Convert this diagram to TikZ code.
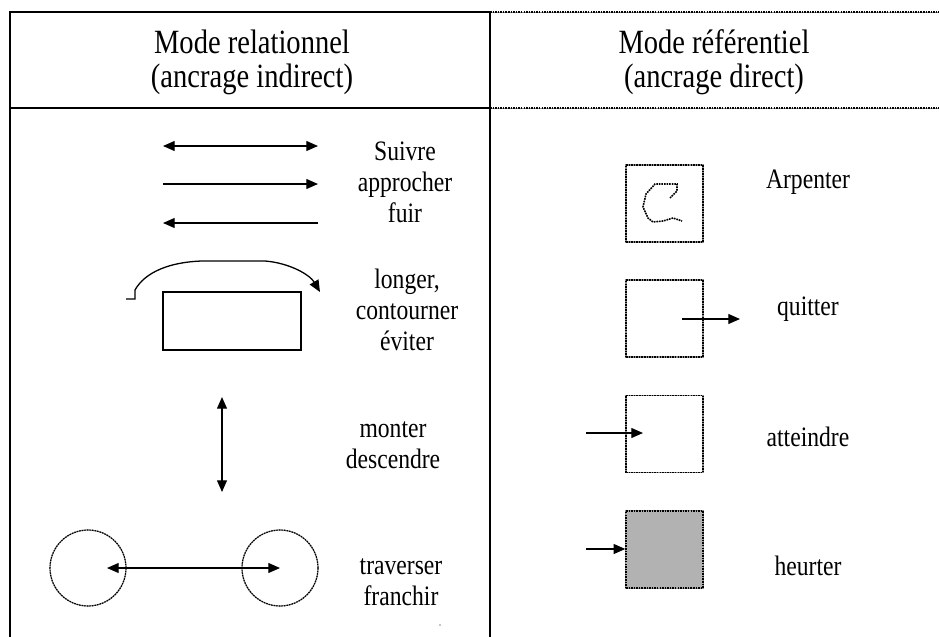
\documentclass[tikz,border=0pt]{standalone}
\usepackage{fontspec}
\setmainfont[FakeStretch=0.84]{Liberation Serif}
\usetikzlibrary{arrows.meta}

\begin{document}
\begin{tikzpicture}[x=0.03cm, y=-0.03cm,
    >={Triangle[length=10pt,width=8.5pt]},
    fleche/.style={line width=1.1pt},
    pointille/.style={line width=1.2pt, dash pattern=on 1.3pt off 0.9pt,
        preaction={draw, solid, black!45}},
    zone/.style={draw, pointille, rectangle, minimum size=2.31cm, inner sep=0pt},
    rond/.style={draw, pointille, line width=1pt, circle, minimum size=2.28cm, inner sep=0pt},
    tete/.style={align=center, font=\fontsize{29}{29}\selectfont},
    lbl/.style={align=center, font=\fontsize{24}{26.5}\selectfont}]
    \useasboundingbox (0,0) rectangle (939,637);

    % table frame
    \draw[line width=1.3pt] (490,12) -- (10,12) -- (10,637);
    \draw[line width=1.1pt] (10,108) -- (490,108);
    \draw[line width=1.8pt] (490,12) -- (490,108);
    \draw[line width=1.1pt] (490,108) -- (490,637);
    \draw[pointille, line width=1.5pt] (490,12) -- (939,12);
    \draw[pointille, line width=1.5pt] (490,108) -- (939,108);
    \node[tete] (hrel) at (252,62) {Mode relationnel\\(ancrage indirect)};
    \node[tete] (href) at (714,62) {Mode référentiel\\(ancrage direct)};

    % relational mode
    \coordinate (sa) at (163,146); \coordinate (sb) at (318,146);
    \coordinate (aa) at (163,184); \coordinate (ab) at (318,184);
    \coordinate (fa) at (318,223); \coordinate (fb) at (163,223);
    \draw[fleche, <->] (sa) -- (sb);
    \draw[fleche, ->] (aa) -- (ab);
    \draw[fleche, ->] (fa) -- (fb);
    \node[lbl] (suivre) at (405,182) {Suivre\\approcher\\fuir};

    \node[draw, line width=1.1pt, minimum width=4.14cm, minimum height=1.74cm, inner sep=0pt] (obst) at (232,321) {};
    \coordinate (ca) at (126,299);
    \draw[fleche, ->] (ca) -- (135,299) -- (135,290)
        .. controls (145,272) and (170,262) .. (202,261) -- (265,261)
        .. controls (290,263) and (310,275) .. (320,292);
    \node[lbl] (longer) at (407,310) {longer,\\contourner\\éviter};

    \coordinate (mh) at (222,397); \coordinate (mb) at (222,492);
    \draw[fleche, <->] (mh) -- (mb);
    \node[lbl] (monter) at (393,445) {monter\\descendre};

    \node[rond] (cg) at (88,568) {};
    \node[rond] (cd) at (280,568) {};
    \coordinate (tg) at (107,568);
    \draw[fleche, <->] (tg) -- (cd.center);
    \node[lbl] (trav) at (401,582) {traverser\\franchir};
    \fill (440,625) circle (0.6pt);

    % referential mode
    \node[zone] (b1) at (664.5,203.5) {};
    \draw[pointille, line width=1.4pt] (670,198) -- (677,191) -- (677,184) -- (655,184)
        -- (646,194) -- (643,207) -- (648,218) -- (653,222) -- (663,221) -- (673,218) -- (682,221);
    \node[lbl] (arp) at (808,182) {Arpenter};

    \node[zone] (b2) at (664.5,318.5) {};
    \coordinate (qa) at (682,319); \coordinate (qb) at (740,319);
    \draw[fleche, ->] (qa) -- (qb);
    \node[lbl] (quit) at (808,309) {quitter};

    \node[zone] (b3) at (664.5,434) {};
    \coordinate (ea) at (586,433); \coordinate (eb) at (643,433);
    \draw[fleche, ->] (ea) -- (eb);
    \node[lbl] (att) at (808,437) {atteindre};

    \node[zone, fill=black!30] (b4) at (664.5,549.5) {};
    \coordinate (ha) at (586,549);
    \draw[fleche, ->] (ha) -- (b4.west |- ha);
    \node[lbl] (heur) at (808,566) {heurter};
\end{tikzpicture}
\end{document}
